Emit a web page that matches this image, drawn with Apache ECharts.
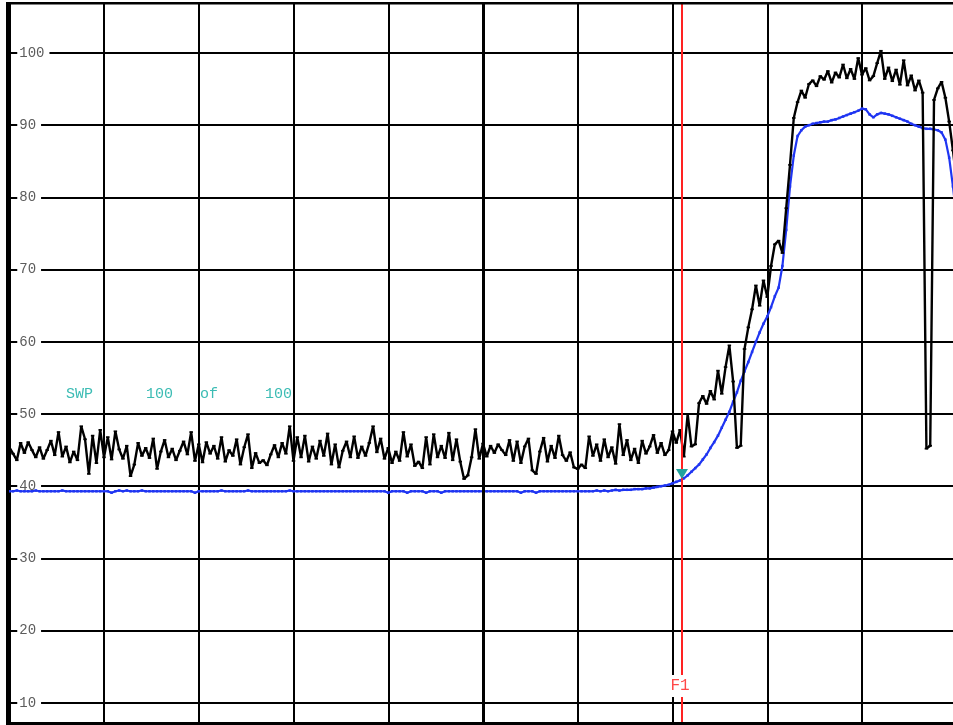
<!DOCTYPE html>
<html><head><meta charset="utf-8">
<script src="https://cdn.jsdelivr.net/npm/echarts@6/dist/echarts.min.js"></script>
<style>html,body{margin:0;padding:0;background:#fff;overflow:hidden}#c{width:953px;height:725px}</style>
</head><body><div id="c"></div>
<script>
// ---- data ----
const pointStep = 4; // frequency units between sweep points (axis 0..1000)
const yTicks = [10, 20, 30, 40, 50, 60, 70, 80, 90, 100];
const traceLive = [
 45.4,44.5,43.6,46.0,44.6,46.1,45.0,44.0,45.4,43.8,
 45.0,46.3,44.3,47.5,44.1,45.5,43.3,44.8,43.6,48.3,
 46.5,41.7,47.0,43.2,47.8,44.0,46.8,43.7,47.6,45.1,
 43.8,45.6,41.4,43.0,46.0,44.2,45.3,43.9,46.6,42.4,
 44.8,46.4,44.0,45.2,43.6,44.9,46.2,44.4,47.5,43.5,
 45.8,43.3,46.1,44.5,45.6,43.8,46.8,43.4,45.0,44.2,
 46.5,43.0,45.4,47.2,42.5,44.6,43.2,43.6,42.9,44.4,
 45.7,44.0,46.0,44.5,48.3,43.5,46.8,44.0,47.0,43.4,
 45.5,43.8,46.3,44.2,47.3,43.0,45.8,42.6,44.9,46.2,
 44.0,46.9,43.9,45.5,44.2,46.0,48.3,44.7,46.6,43.8,
 45.3,43.2,44.8,43.5,47.5,44.1,45.8,42.8,43.4,42.5,
 46.8,43.0,47.2,44.0,45.6,43.9,47.4,43.6,46.5,43.4,
 41.0,41.5,44.0,47.9,43.8,45.9,44.1,45.6,44.6,45.8,
 45.0,44.3,46.4,43.5,46.2,43.2,45.5,46.6,42.2,41.7,
 44.8,46.7,43.4,45.6,43.9,47.0,44.3,43.5,44.7,42.6,
 42.4,43.0,42.5,46.9,44.2,45.8,43.5,46.5,44.0,45.4,
 43.1,48.6,44.3,46.4,43.6,45.2,43.2,46.3,44.5,45.5,
 47.1,44.6,46.0,44.3,45.0,47.6,46.0,47.8,44.1,50.0,
 45.5,45.8,51.5,52.5,51.4,53.2,52.0,56.0,52.8,56.5,
 59.5,54.5,45.3,45.6,59.0,62.0,64.5,67.8,65.0,68.5,
 66.2,70.5,73.5,74.0,72.3,78.5,84.5,91.0,93.2,94.8,
 93.8,95.7,96.2,95.4,96.8,96.3,97.5,95.9,97.3,96.6,
 98.4,96.5,97.8,96.4,99.3,97.0,97.9,96.2,96.8,98.6,
 100.3,96.4,98.0,96.1,97.7,95.6,99.0,95.5,96.9,94.8,
 96.2,94.5,45.2,45.6,93.5,95.1,96.0,93.8,90.5,86.5,
 82.0
];
const traceAvg = [
 39.3,39.3,39.4,39.3,39.3,39.3,39.3,39.4,39.3,39.3,
 39.3,39.3,39.3,39.3,39.4,39.3,39.3,39.3,39.3,39.3,
 39.3,39.3,39.3,39.3,39.3,39.3,39.3,39.1,39.3,39.4,
 39.3,39.4,39.3,39.3,39.3,39.4,39.3,39.3,39.3,39.3,
 39.3,39.3,39.3,39.3,39.3,39.3,39.3,39.3,39.3,39.1,
 39.3,39.3,39.3,39.3,39.3,39.3,39.4,39.3,39.3,39.3,
 39.3,39.3,39.3,39.4,39.3,39.3,39.3,39.3,39.3,39.3,
 39.3,39.3,39.3,39.3,39.4,39.3,39.3,39.3,39.3,39.3,
 39.3,39.3,39.3,39.3,39.3,39.3,39.3,39.3,39.3,39.3,
 39.3,39.3,39.3,39.3,39.3,39.3,39.3,39.3,39.3,39.3,
 39.1,39.3,39.3,39.3,39.3,39.1,39.3,39.3,39.3,39.3,
 39.1,39.3,39.3,39.3,39.1,39.3,39.3,39.3,39.3,39.3,
 39.3,39.3,39.3,39.3,39.3,39.3,39.3,39.3,39.3,39.3,
 39.3,39.3,39.3,39.3,39.3,39.1,39.3,39.3,39.3,39.1,
 39.3,39.3,39.3,39.3,39.3,39.3,39.3,39.3,39.3,39.3,
 39.3,39.3,39.3,39.3,39.3,39.4,39.3,39.4,39.3,39.4,
 39.5,39.4,39.5,39.5,39.5,39.6,39.6,39.6,39.7,39.7,
 39.8,39.9,40.0,40.1,40.2,40.4,40.6,40.8,41.1,41.5,
 42.0,42.5,43.0,43.7,44.4,45.3,46.1,47.0,48.1,49.2,
 50.3,51.7,53.0,54.6,55.9,57.2,58.6,60.0,61.3,62.5,
 63.5,64.8,66.3,67.5,70.5,75.5,81.5,85.8,88.5,89.3,
 89.8,90.0,90.2,90.3,90.4,90.5,90.5,90.7,90.8,91.0,
 91.2,91.4,91.6,91.8,92.0,92.3,92.2,91.5,91.1,91.5,
 91.7,91.6,91.5,91.3,91.1,90.9,90.7,90.5,90.2,90.0,
 89.8,89.6,89.5,89.5,89.4,89.3,89.0,88.0,85.5,81.5,
 77.0
];
const markerFreq = [710];
const markerLevel = [41.0];
const markerName = ['F1'];
const centerFreq = [500];
const sweepText = ['SWP', '100', 'of', '100'];

// ---- chart ----
const chart = echarts.init(document.getElementById('c'), null, {renderer: 'canvas'});
const toPairs = arr => arr.map((v, i) => [i * pointStep, v]);
const mono = '"Liberation Mono", "DejaVu Sans Mono", monospace';
const teal = '#3cbcb4';
const sweepX = [66, 146, 200, 265];

const option = {
  animation: false,
  backgroundColor: '#fff',
  grid: {left: 9.25, top: -19.2, width: 947.5, height: 794.2, outerBoundsMode: 'none', containLabel: false},
  xAxis: {
    type: 'value', min: 0, max: 1000, interval: 100,
    axisLine: {show: false}, axisTick: {show: false}, axisLabel: {show: false},
    splitLine: {show: true, lineStyle: {color: '#000', width: 2}}
  },
  yAxis: {
    type: 'value', min: 0, max: 110, interval: 10,
    axisLine: {show: false}, axisTick: {show: false},
    axisLabel: {
      inside: true, margin: 8, color: '#5c5c5c', fontFamily: mono, fontSize: 14,
      backgroundColor: '#fff', padding: [0, 5, 3, 2],
      formatter: v => yTicks.includes(v) ? String(v) : ''
    },
    splitLine: {show: true, lineStyle: {color: '#000', width: 2}}
  },
  series: [
    {
      type: 'line', data: [], z: 1, silent: true,
      markLine: {
        silent: true, symbol: ['none', 'none'], label: {show: false}, animation: false,
        data: centerFreq.map(f => ({xAxis: f, lineStyle: {color: '#000', width: 3, type: 'solid'}}))
      }
    },
    {
      type: 'line', name: 'avg', data: toPairs(traceAvg), z: 3,
      showSymbol: true, showAllSymbol: true, symbol: 'rect', symbolSize: [2.5, 2.5],
      itemStyle: {color: '#1f35f2'},
      lineStyle: {color: '#1f35f2', width: 2.2},
      markPoint: {
        silent: true, animation: false,
        data: markerFreq.map((f, k) => ({
          coord: [f, markerLevel[k]], symbol: 'triangle', symbolRotate: 180,
          symbolSize: [12, 10], symbolOffset: [0, -5],
          itemStyle: {color: '#1fa39e'}, label: {show: false}
        }))
      }
    },
    {
      type: 'line', name: 'live', data: toPairs(traceLive), z: 4,
      showSymbol: true, showAllSymbol: true, symbol: 'rect', symbolSize: [3.5, 1.8],
      itemStyle: {color: '#000'},
      lineStyle: {color: '#000', width: 2.4}
    },
    {
      type: 'line', data: [], z: 10, silent: true,
      markLine: {
        silent: true, symbol: ['none', 'none'], label: {show: false}, animation: false,
        data: markerFreq.map(f => ({xAxis: f, lineStyle: {color: '#ff2222', width: 2, type: 'solid'}}))
      }
    }
  ],
  graphic: [
    {type: 'rect', shape: {x: 0, y: 0, width: 953, height: 2}, style: {fill: '#fff'}, z: 50},
    {type: 'line', shape: {x1: 6, y1: 3.2, x2: 953, y2: 3.2}, style: {stroke: '#000', lineWidth: 2.5}, z: 60},
    {type: 'line', shape: {x1: 7.5, y1: 2, x2: 7.5, y2: 725}, style: {stroke: '#000', lineWidth: 3}, z: 60},
    {type: 'line', shape: {x1: 6, y1: 723.5, x2: 953, y2: 723.5}, style: {stroke: '#000', lineWidth: 3}, z: 60},
    ...sweepText.map((t, k) => ({
      type: 'text', x: sweepX[k], y: 394.5, z: 70,
      style: {text: t, fill: teal, font: '15px ' + mono, verticalAlign: 'middle', align: 'left'}
    })),
    {
      type: 'text', x: 680, y: 686, z: 70,
      style: {text: markerName[0], fill: '#ff4848', font: '16px ' + mono, align: 'center', verticalAlign: 'middle',
              backgroundColor: '#fff', padding: [3, 2]}
    }
  ]
};
chart.setOption(option);
</script>
</body></html>
